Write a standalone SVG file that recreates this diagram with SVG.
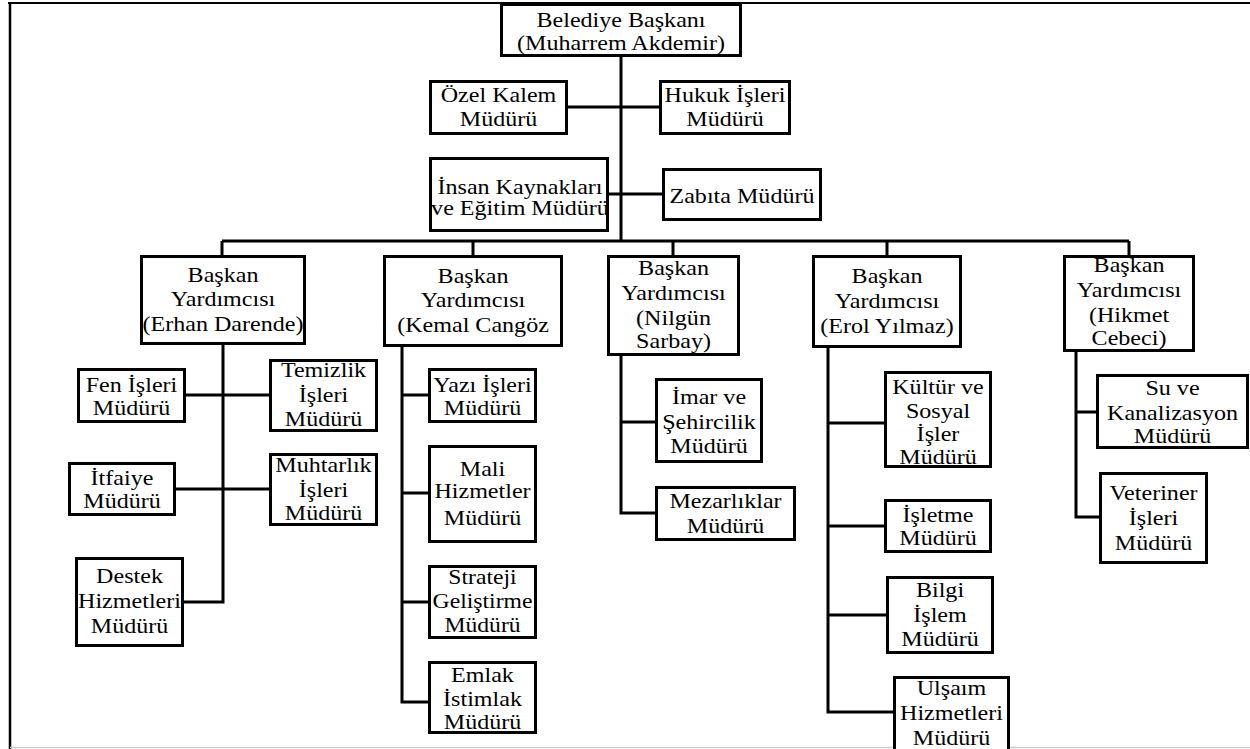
<svg xmlns="http://www.w3.org/2000/svg" width="1250" height="749" viewBox="0 0 1250 749">
<style>
.b{fill:#fff;stroke:#000;stroke-width:3}
.t{font-family:"Liberation Serif","Times New Roman",serif;font-size:21.5px;fill:#000;text-anchor:middle}
.c{fill:none;stroke:#000;stroke-width:3}
</style>
<rect x="0" y="0" width="1250" height="749" fill="#fff"/>
<g id="frame">
<line x1="8" y1="3" x2="1250" y2="3" stroke="#000" stroke-width="2"/>
<line x1="10" y1="3" x2="10" y2="749" stroke="#000" stroke-width="2.5"/>
<line x1="10" y1="747.5" x2="1250" y2="747.5" stroke="#ccc" stroke-width="1.5"/>
</g>
<g id="connectors">
<path class="c" d="M621,57V241M568,107H659M609,194H662M222,241H1129M222,241V255M473,241V255M673,241V255M887,241V255M1129,241V255"/>
<path class="c" d="M223,345V602H184M186,395H269M176,489H269"/>
<path class="c" d="M402,346V702H428M402,395H428M402,493H428M402,602H428"/>
<path class="c" d="M621,356V513H655M621,422H655"/>
<path class="c" d="M828,348V712H893M828,423H884M828,526H884M828,615H886"/>
<path class="c" d="M1076,352V517H1099M1076,412H1096"/>
</g>
<g id="baskan"><rect class="b" x="501.5" y="4.5" width="239" height="51"/><text class="t" transform="translate(621,0) scale(1.12,1)"><tspan x="0" y="27">Belediye Başkanı</tspan><tspan x="0" y="50">(Muharrem Akdemir)</tspan></text></g>
<g id="ozel"><rect class="b" x="430.5" y="81.5" width="136" height="52"/><text class="t" transform="translate(498.5,0) scale(1.12,1)"><tspan x="0" y="102">Özel Kalem</tspan><tspan x="0" y="126.5">Müdürü</tspan></text></g>
<g id="hukuk"><rect class="b" x="660.5" y="81.5" width="129" height="52"/><text class="t" transform="translate(725,0) scale(1.12,1)"><tspan x="0" y="102">Hukuk İşleri</tspan><tspan x="0" y="126.5">Müdürü</tspan></text></g>
<g id="insan"><rect class="b" x="430.5" y="158.5" width="177" height="72"/><text class="t" transform="translate(520,0) scale(1.12,1)"><tspan x="0" y="194">İnsan Kaynakları</tspan><tspan x="0" y="215">ve Eğitim Müdürü</tspan></text></g>
<g id="zabita"><rect class="b" x="663.5" y="169.5" width="157" height="50"/><text class="t" transform="translate(742,0) scale(1.12,1)"><tspan x="0" y="203">Zabıta Müdürü</tspan></text></g>
<g id="vp-erhan"><rect class="b" x="141.5" y="256.5" width="163" height="87"/><text class="t" transform="translate(223,0) scale(1.12,1)"><tspan x="0" y="282">Başkan</tspan><tspan x="0" y="306">Yardımcısı</tspan><tspan x="0" y="331">(Erhan Darende)</tspan></text></g>
<g id="vp-kemal"><rect class="b" x="384.5" y="256.5" width="177" height="89"/><text class="t" transform="translate(473,0) scale(1.12,1)"><tspan x="0" y="283">Başkan</tspan><tspan x="0" y="307">Yardımcısı</tspan><tspan x="0" y="332">(Kemal Cangöz</tspan></text></g>
<g id="vp-nilgun"><rect class="b" x="608.5" y="256.5" width="130" height="98"/><text class="t" transform="translate(673.5,0) scale(1.12,1)"><tspan x="0" y="275">Başkan</tspan><tspan x="0" y="300">Yardımcısı</tspan><tspan x="0" y="325">(Nilgün</tspan><tspan x="0" y="348.5">Sarbay)</tspan></text></g>
<g id="vp-erol"><rect class="b" x="813.5" y="256.5" width="147" height="90"/><text class="t" transform="translate(887,0) scale(1.12,1)"><tspan x="0" y="283">Başkan</tspan><tspan x="0" y="308">Yardımcısı</tspan><tspan x="0" y="333">(Erol Yılmaz)</tspan></text></g>
<g id="vp-hikmet"><rect class="b" x="1064.5" y="256.5" width="129" height="94"/><text class="t" transform="translate(1129,0) scale(1.12,1)"><tspan x="0" y="272">Başkan</tspan><tspan x="0" y="297">Yardımcısı</tspan><tspan x="0" y="322">(Hikmet</tspan><tspan x="0" y="345">Cebeci)</tspan></text></g>
<g id="fen"><rect class="b" x="78.5" y="369.5" width="106" height="52"/><text class="t" transform="translate(131.5,0) scale(1.12,1)"><tspan x="0" y="392">Fen İşleri</tspan><tspan x="0" y="415">Müdürü</tspan></text></g>
<g id="temizlik"><rect class="b" x="270.5" y="360.5" width="106" height="70"/><text class="t" transform="translate(323.5,0) scale(1.12,1)"><tspan x="0" y="377.5">Temizlik</tspan><tspan x="0" y="402.5">İşleri</tspan><tspan x="0" y="426">Müdürü</tspan></text></g>
<g id="itfaiye"><rect class="b" x="69.5" y="463.5" width="105" height="51"/><text class="t" transform="translate(122,0) scale(1.12,1)"><tspan x="0" y="485">İtfaiye</tspan><tspan x="0" y="508.5">Müdürü</tspan></text></g>
<g id="muhtarlik"><rect class="b" x="270.5" y="454.5" width="106" height="70"/><text class="t" transform="translate(323.5,0) scale(1.12,1)"><tspan x="0" y="472">Muhtarlık</tspan><tspan x="0" y="497">İşleri</tspan><tspan x="0" y="520.5">Müdürü</tspan></text></g>
<g id="destek"><rect class="b" x="76.5" y="558.5" width="106" height="87"/><text class="t" transform="translate(129.5,0) scale(1.12,1)"><tspan x="0" y="583.5">Destek</tspan><tspan x="0" y="608.5">Hizmetleri</tspan><tspan x="0" y="633.5">Müdürü</tspan></text></g>
<g id="yazi"><rect class="b" x="429.5" y="369.5" width="106" height="52"/><text class="t" transform="translate(482.5,0) scale(1.12,1)"><tspan x="0" y="392">Yazı İşleri</tspan><tspan x="0" y="415">Müdürü</tspan></text></g>
<g id="mali"><rect class="b" x="429.5" y="446.5" width="106" height="95"/><text class="t" transform="translate(482.5,0) scale(1.12,1)"><tspan x="0" y="476.5">Mali</tspan><tspan x="0" y="498.5">Hizmetler</tspan><tspan x="0" y="525">Müdürü</tspan></text></g>
<g id="strateji"><rect class="b" x="429.5" y="566.5" width="106" height="71"/><text class="t" transform="translate(482.5,0) scale(1.1,1)"><tspan x="0" y="584">Strateji</tspan><tspan x="0" y="608.5">Geliştirme</tspan><tspan x="0" y="632.5">Müdürü</tspan></text></g>
<g id="emlak"><rect class="b" x="429.5" y="662.5" width="106" height="70"/><text class="t" transform="translate(482.5,0) scale(1.12,1)"><tspan x="0" y="682.5">Emlak</tspan><tspan x="0" y="706.5">İstimlak</tspan><tspan x="0" y="729.5">Müdürü</tspan></text></g>
<g id="imar"><rect class="b" x="656.5" y="379.5" width="105" height="82"/><text class="t" transform="translate(709,0) scale(1.12,1)"><tspan x="0" y="404.5">İmar ve</tspan><tspan x="0" y="429.5">Şehircilik</tspan><tspan x="0" y="453.5">Müdürü</tspan></text></g>
<g id="mezarliklar"><rect class="b" x="656.5" y="487.5" width="138" height="52"/><text class="t" transform="translate(725.5,0) scale(1.12,1)"><tspan x="0" y="508.5">Mezarlıklar</tspan><tspan x="0" y="533.5">Müdürü</tspan></text></g>
<g id="kultur"><rect class="b" x="885.5" y="372.5" width="105" height="94"/><text class="t" transform="translate(938,0) scale(1.12,1)"><tspan x="0" y="394">Kültür ve</tspan><tspan x="0" y="418.5">Sosyal</tspan><tspan x="0" y="441.5">İşler</tspan><tspan x="0" y="464">Müdürü</tspan></text></g>
<g id="isletme"><rect class="b" x="885.5" y="500.5" width="105" height="51"/><text class="t" transform="translate(938,0) scale(1.12,1)"><tspan x="0" y="522">İşletme</tspan><tspan x="0" y="545">Müdürü</tspan></text></g>
<g id="bilgi"><rect class="b" x="887.5" y="577.5" width="105" height="75"/><text class="t" transform="translate(940,0) scale(1.12,1)"><tspan x="0" y="597.5">Bilgi</tspan><tspan x="0" y="622">İşlem</tspan><tspan x="0" y="646">Müdürü</tspan></text></g>
<g id="ulasim"><rect class="b" x="894.5" y="677.5" width="114" height="80"/><text class="t" transform="translate(951.5,0) scale(1.12,1)"><tspan x="0" y="695">Ulşaım</tspan><tspan x="0" y="720">Hizmetleri</tspan><tspan x="0" y="745">Müdürü</tspan></text></g>
<g id="su"><rect class="b" x="1097.5" y="375.5" width="150" height="72"/><text class="t" transform="translate(1172.5,0) scale(1.12,1)"><tspan x="0" y="395">Su ve</tspan><tspan x="0" y="420">Kanalizasyon</tspan><tspan x="0" y="443">Müdürü</tspan></text></g>
<g id="veteriner"><rect class="b" x="1100.5" y="473.5" width="106" height="89"/><text class="t" transform="translate(1153.5,0) scale(1.12,1)"><tspan x="0" y="500">Veteriner</tspan><tspan x="0" y="525">İşleri</tspan><tspan x="0" y="550">Müdürü</tspan></text></g>
</svg>
